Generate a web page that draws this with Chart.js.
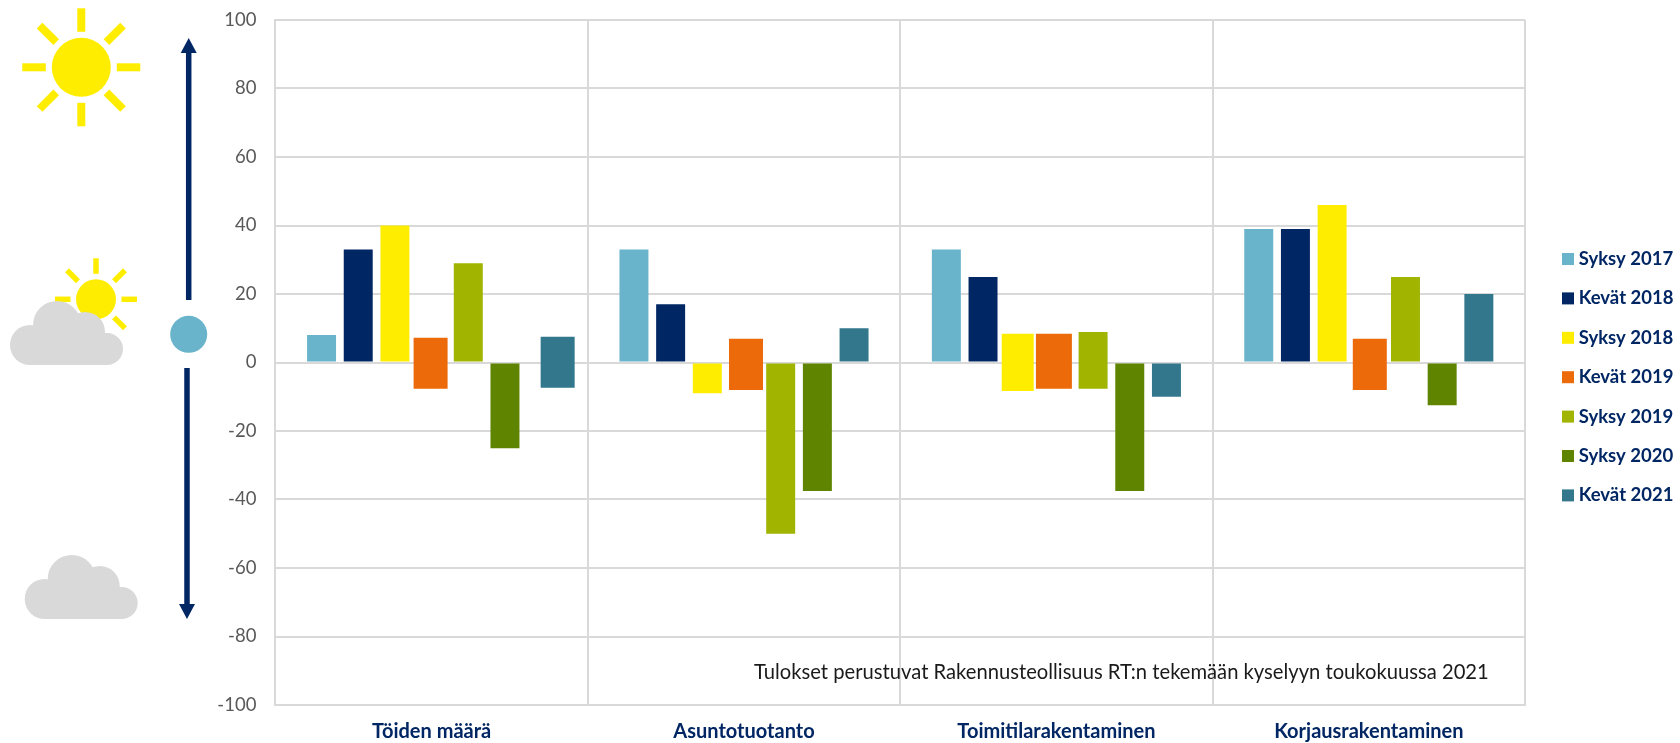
<!DOCTYPE html>
<html>
<head>
<meta charset="utf-8">
<script src="https://cdn.jsdelivr.net/npm/chart.js@4"></script>
<style>
  html, body { margin: 0; padding: 0; background: #fff; overflow: hidden; }
  canvas { display: block; }
</style>
</head>
<body>
<canvas id="chart" width="1680" height="743"></canvas>
<script>
const categories = ['Töiden määrä', 'Asuntotuotanto', 'Toimitilarakentaminen', 'Korjausrakentaminen'];

// kaksisuuntaiset palkit kuvassa: [ala, ylä]
const syksy2017 = [8, 33, 33, 39];
const kevat2018 = [33, 17, 25, 39];
const syksy2018 = [40, -9, [-8.3, 8.4], 46];
const kevat2019 = [[-7.7, 7.2], [-8, 6.9], [-7.7, 8.4], [-8, 6.9]];
const syksy2019 = [29, -50, [-7.7, 8.9], 25];
const syksy2020 = [-25, -37.5, -37.5, -12.5];
const kevat2021 = [[-7.4, 7.5], 10, -10, 20];

const seriesNames = ['Syksy 2017', 'Kevät 2018', 'Syksy 2018', 'Kevät 2019', 'Syksy 2019', 'Syksy 2020', 'Kevät 2021'];
const seriesValues = [syksy2017, kevat2018, syksy2018, kevat2019, syksy2019, syksy2020, kevat2021];
const seriesColors = ['#69B4CA', '#002664', '#FFED00', '#EC6A0A', '#A0B400', '#5E8400', '#32778C'];

const NAVY = '#002664';
const GRID = '#D9D9D9';
const SUN = '#FFED00';
const note = 'Tulokset perustuvat Rakennusteollisuus RT:n tekemään kyselyyn toukokuussa 2021';

// alkuperäisessä osa palkeista on käsin siirrettyjä/leveämpiä: [sarja, kategoria, dx, leveys]
const barTweaks = [
  [3, 0, -1, 34], [3, 1, 2, 34], [3, 2, -2.5, 36], [3, 3, 1, 34],
  [2, 2, -2, 32],
  [6, 0, 16, 34]
];

const tweakBars = {
  id: 'tweakBars',
  afterDatasetsUpdate(chart) {
    barTweaks.forEach(([ds, i, dx, w]) => {
      const el = chart.getDatasetMeta(ds).data[i];
      el.x += dx;
      el.width = w;
    });
  }
};

function drawSun(ctx, x, y, r, r1, r2, thick) {
  ctx.fillStyle = SUN;
  ctx.strokeStyle = SUN;
  ctx.lineWidth = thick;
  ctx.beginPath();
  ctx.arc(x, y, r, 0, Math.PI * 2);
  ctx.fill();
  for (let k = 0; k < 8; k++) {
    const a = k * Math.PI / 4;
    ctx.beginPath();
    ctx.moveTo(x + Math.cos(a) * r1, y + Math.sin(a) * r1);
    ctx.lineTo(x + Math.cos(a) * r2, y + Math.sin(a) * r2);
    ctx.stroke();
  }
}

function drawCloud(ctx, x, y) {
  ctx.fillStyle = '#D9D9D9';
  const circles = [[20, 44, 20], [47, 24, 24], [75, 31, 20], [97, 48, 16]];
  circles.forEach(([cx, cy, r]) => {
    ctx.beginPath();
    ctx.arc(x + cx, y + cy, r, 0, Math.PI * 2);
    ctx.fill();
  });
  ctx.fillRect(x + 20, y + 32, 77, 32);
}

function drawArrow(ctx, x, y1, y2, tip) {
  const dir = tip > y2 ? 1 : -1;
  ctx.fillStyle = NAVY;
  ctx.fillRect(x - 2.75, Math.min(y1, y2), 5.5, Math.abs(y2 - y1));
  ctx.beginPath();
  ctx.moveTo(x, tip);
  ctx.lineTo(x - 8, tip - dir * 15);
  ctx.lineTo(x + 8, tip - dir * 15);
  ctx.closePath();
  ctx.fill();
}

// selite piirretään itse, koska ruudun ja tekstin väli on kapeampi kuin Chart.js:n oma
function drawLegend(ctx) {
  ctx.font = 'bold 18.5px Lato';
  ctx.textBaseline = 'middle';
  seriesNames.forEach((name, i) => {
    const y = 253 + i * 39.4;
    ctx.fillStyle = seriesColors[i];
    ctx.fillRect(1562, y, 12, 12);
    ctx.fillStyle = NAVY;
    ctx.fillText(name, 1578.7, y + 6);
  });
}

const decorations = {
  id: 'decorations',
  afterDraw(chart) {
    const ctx = chart.ctx;
    ctx.save();
    drawSun(ctx, 81.3, 67.3, 29.5, 35.5, 59, 8);
    drawSun(ctx, 96, 299.3, 20, 25.5, 41, 5.5);
    drawCloud(ctx, 10, 301);
    drawCloud(ctx, 24.7, 555);
    drawArrow(ctx, 188.7, 300, 53, 38);
    drawArrow(ctx, 187, 368, 604, 619);
    ctx.fillStyle = '#69B4CA';
    ctx.beginPath();
    ctx.arc(188.7, 334.3, 18.5, 0, Math.PI * 2);
    ctx.fill();
    drawLegend(ctx);
    ctx.fillStyle = '#1A1A1A';
    ctx.font = '20.2px Lato';
    ctx.textBaseline = 'alphabetic';
    ctx.fillText(note, 754, 679);
    ctx.restore();
  }
};

new Chart(document.getElementById('chart').getContext('2d'), {
  type: 'bar',
  data: {
    labels: categories,
    datasets: seriesNames.map((name, i) => ({
      label: name,
      data: seriesValues[i],
      backgroundColor: seriesColors[i],
      borderWidth: 0,
      categoryPercentage: 0.822,
      barPercentage: 0.79
    }))
  },
  options: {
    responsive: false,
    animation: false,
    layout: { padding: { top: 20, right: 155, left: 0, bottom: 0 } },
    plugins: {
      tooltip: { enabled: false },
      legend: { display: false }
    },
    scales: {
      x: {
        afterFit(scale) { scale.height = 38; },
        grid: { color: GRID, lineWidth: 2, drawTicks: false },
        border: { color: GRID, width: 2 },
        ticks: {
          color: NAVY,
          padding: 15,
          maxRotation: 0,
          font: { family: 'Lato', size: 20, weight: 'bold' }
        }
      },
      y: {
        min: -100,
        max: 100,
        afterFit(scale) { scale.width = 275.4; },
        // näkymätön tick-viiva antaa tilan; iso ticks.padding työntäisi piirtoalueen alas
        grid: { color: GRID, lineWidth: 2, tickLength: 16, tickColor: 'transparent' },
        border: { color: GRID, width: 2 },
        ticks: {
          stepSize: 20,
          color: '#595959',
          padding: 3,
          font: { family: 'Lato', size: 18.5 }
        }
      }
    }
  },
  plugins: [tweakBars, decorations]
});
</script>
</body>
</html>
